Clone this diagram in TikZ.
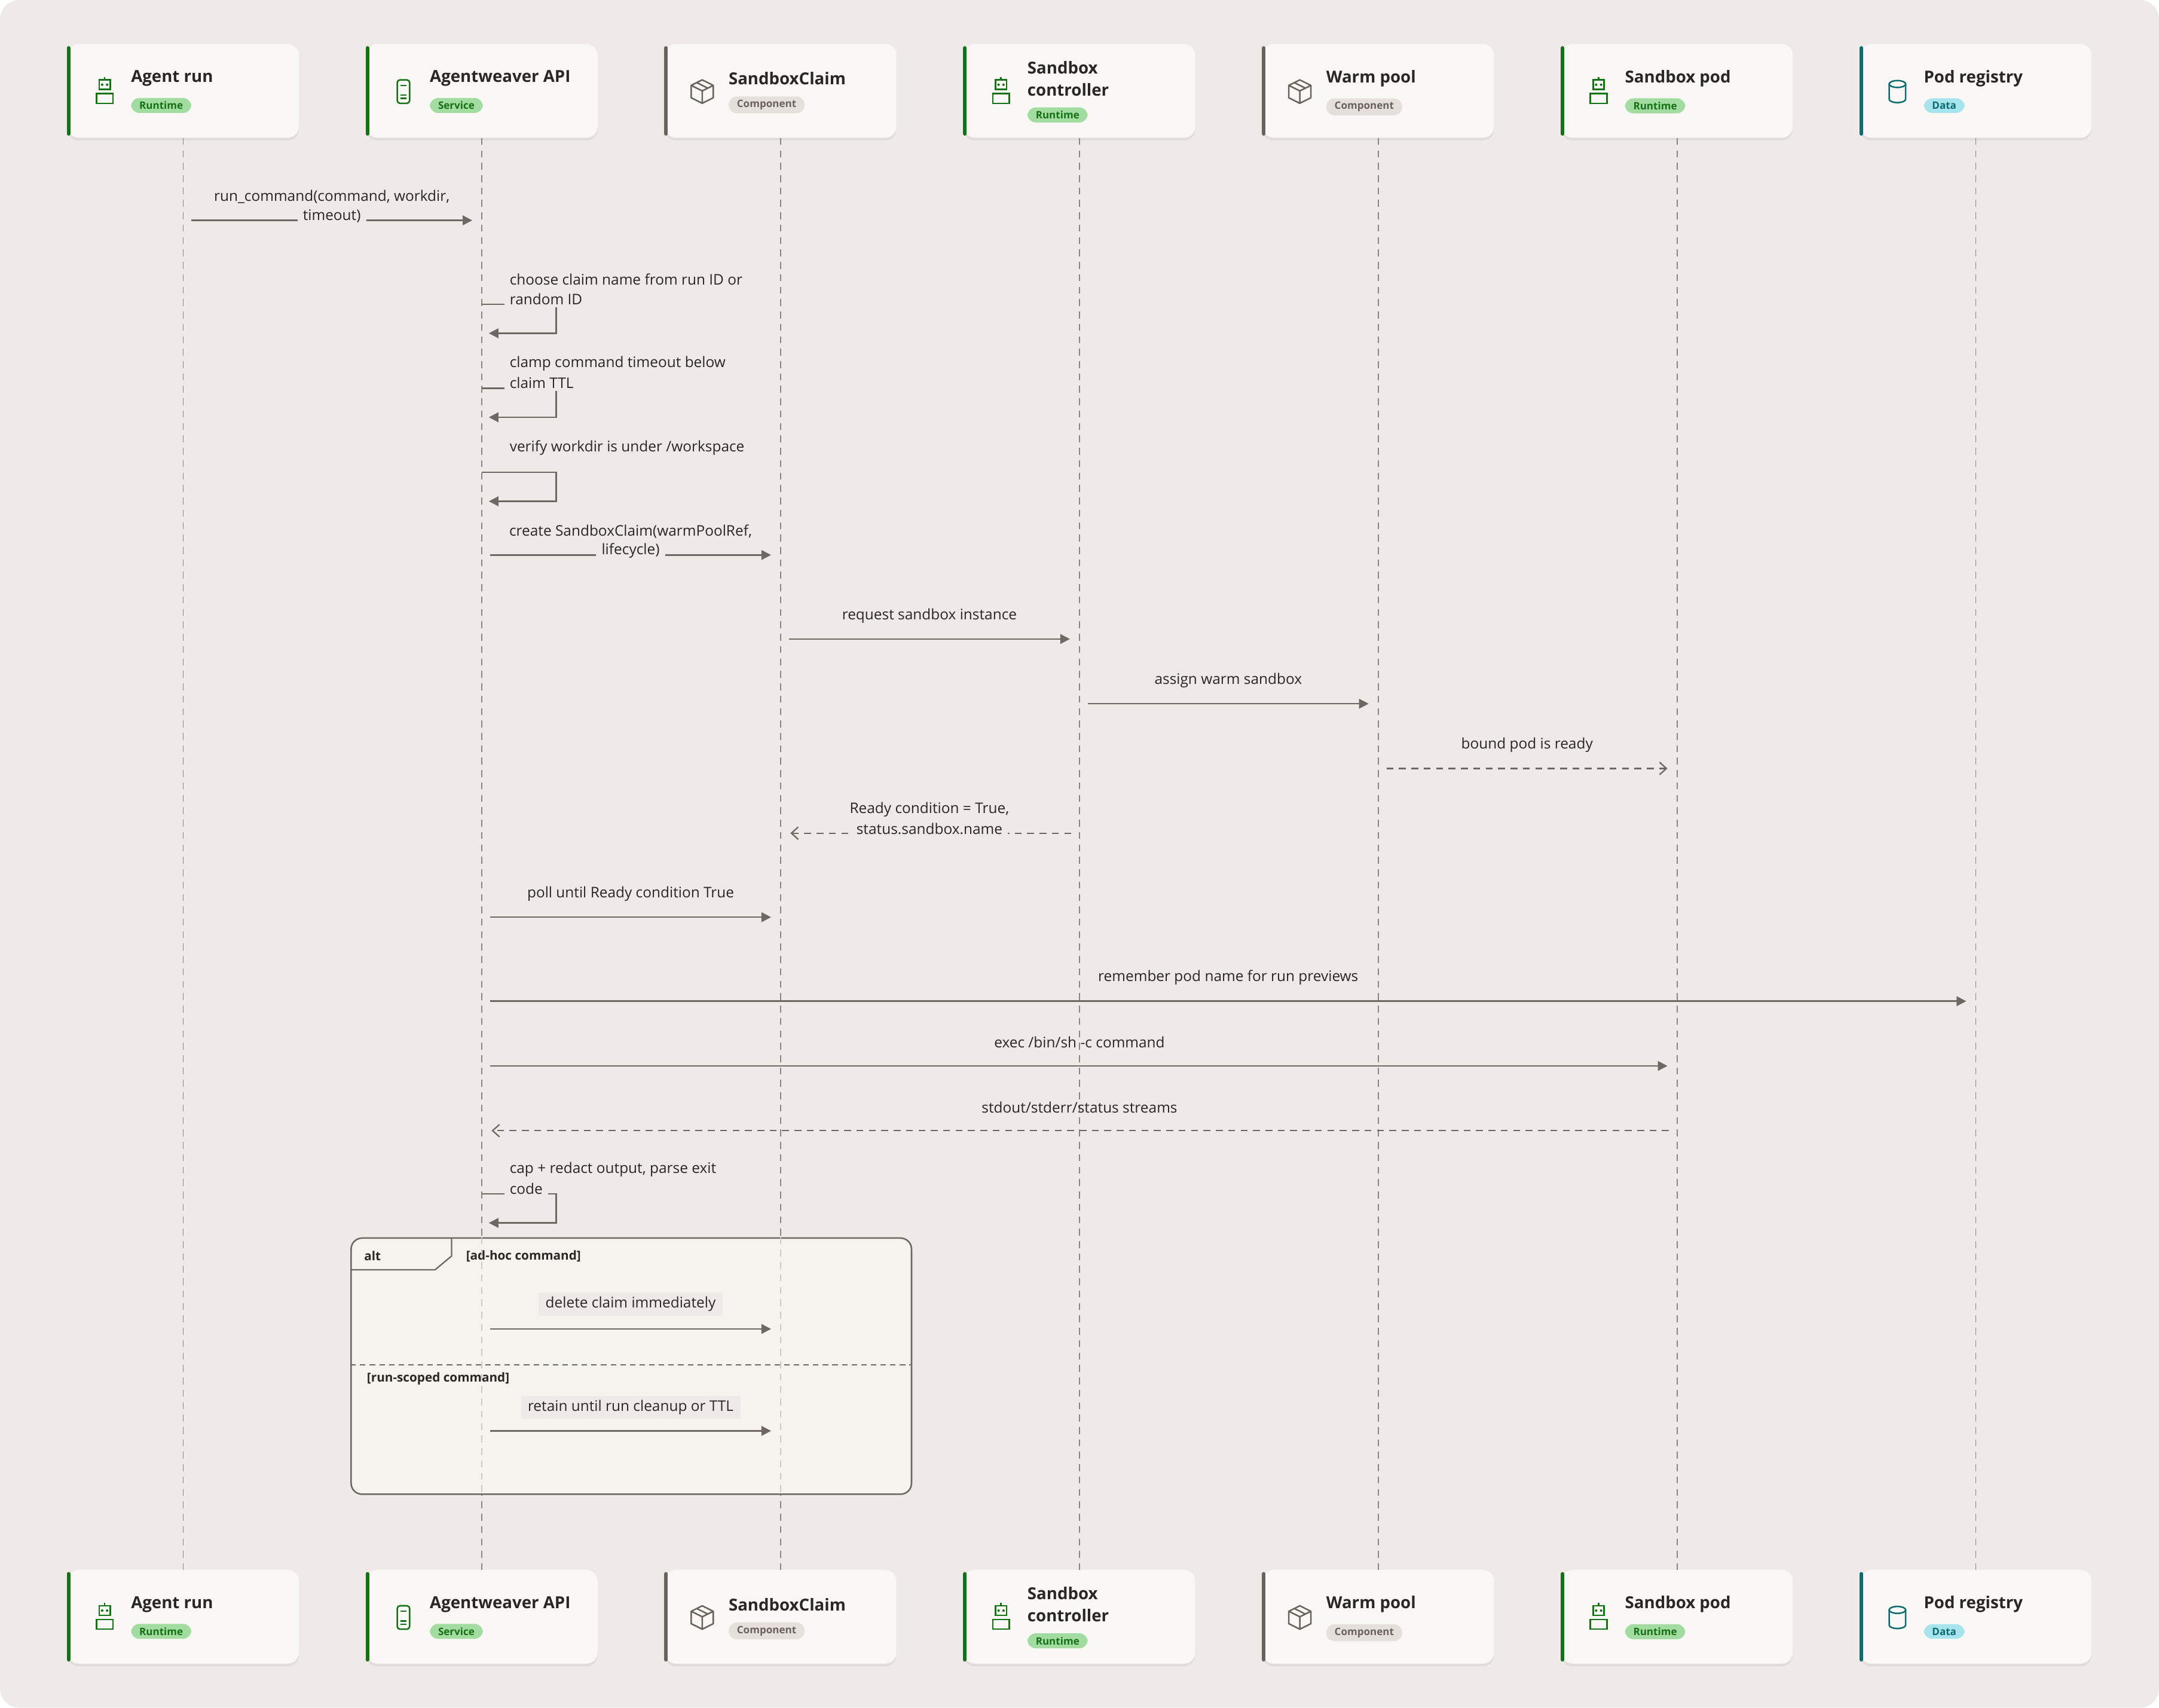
\documentclass[tikz,border=0pt]{standalone}
\usepackage{fontspec}
\setmainfont{Open Sans}
\usetikzlibrary{positioning,arrows.meta,shadows}
\definecolor{bgc}{HTML}{EFEAE7}
\definecolor{boxc}{HTML}{FAF8F5}
\definecolor{linec}{HTML}{6E6763}
\definecolor{txtc}{HTML}{2B2523}
\definecolor{rtc}{HTML}{167016}
\definecolor{rtfill}{HTML}{A3DCA0}
\definecolor{cpc}{HTML}{6B625E}
\definecolor{cpfill}{HTML}{E6E0DC}
\definecolor{dtc}{HTML}{0E6B6E}
\definecolor{dtfill}{HTML}{A6E4EE}
\definecolor{framec}{HTML}{F6F3EF}
\tikzset{
  party/.style={draw=none, fill=boxc, rounded corners=8, minimum width=168, minimum height=68,
    drop shadow={opacity=0.12, shadow xshift=0pt, shadow yshift=-2pt}},
  title/.style={font=\fontsize{12}{16}\selectfont\bfseries, text=txtc, align=left, inner sep=0pt, anchor=west},
  badge/.style={font=\fontsize{7.4}{8}\selectfont\bfseries, rounded corners=6, inner xsep=6pt, inner ysep=2.6pt},
  life/.style={draw=linec!80, dashed, dash pattern=on 5pt off 4pt, line width=0.7},
  msg/.style={draw=linec, line width=1.1, -{Triangle[length=7,width=7]}},
  ret/.style={draw=linec, line width=1.0, dash pattern=on 5pt off 4pt, -{Straight Barb[length=5,width=9]}},
  lbl/.style={font=\fontsize{10.6}{14}\selectfont, text=txtc, inner sep=2pt, align=center},
  cut/.style={lbl, fill=bgc, inner xsep=4pt},
  icon/.style={line width=1.1},
  pics/robot/.style={code={
    \draw[icon] (-4,-8) rectangle (4,-1); \fill (-1.8,-4.5) circle (0.9) (1.8,-4.5) circle (0.9);
    \draw[icon] (0,-8) -- (0,-10);
    \draw[icon] (-6,9) -- (-6,2) -- (6,2) -- (6,9) -- cycle;}},
  pics/phone/.style={code={
    \draw[icon, rounded corners=2] (-4.5,-8) rectangle (4.5,9);
    \draw[icon] (-2,-4) -- (2,-4) (-2,3) -- (2,3) (-2,5.5) -- (2,5.5);}},
  pics/cube/.style={code={
    \draw[icon, line join=round] (0,-8) -- (8,-4) -- (8,5) -- (0,9) -- (-8,5) -- (-8,-4) -- cycle
      (-8,-4) -- (0,0) -- (8,-4) (0,0) -- (0,9) (-4,-6) -- (4,-2);}},
  pics/cyl/.style={code={
    \draw[icon] (-6,-5) -- (-6,6) arc[start angle=180, end angle=0, x radius=6, y radius=2.5] -- (6,-5);
    \draw[icon] (0,-5) ellipse[x radius=6, y radius=2.5];}},
}
\begin{document}
\begin{tikzpicture}[x=1pt,y=-1pt]
\fill[bgc, rounded corners=14] (0,0) rectangle (1568,1240);
\useasboundingbox (0,0) rectangle (1568,1240);
% participants, top and bottom row
\foreach \k/\x/\t/\b/\c/\i in {
  ag/133/Agent run/Runtime/rt/robot,
  api/350/Agentweaver API/Service/rt/phone,
  claim/567/SandboxClaim/Component/cp/cube,
  ctl/784/{Sandbox\\controller}/Runtime/rt/robot,
  pool/1001/Warm pool/Component/cp/cube,
  pod/1218/Sandbox pod/Runtime/rt/robot,
  reg/1435/Pod registry/Data/dt/cyl}{
  \foreach \r/\y in {top/66, bot/1174}{
    \node[party] (\k-\r) at (\x,\y) {};
    \draw[\c c, line width=2.6, line cap=round] ([xshift=1pt,yshift=-3pt]\k-\r.north west) -- ([xshift=1pt,yshift=3pt]\k-\r.south west);
    \node[title] (\k-\r-t) at (\x-38,\y-9) {\t};
    \node[badge, fill=\c fill, text=\c c, below right=8pt and 0pt of \k-\r-t.south west, anchor=north west] (\k-\r-b) {\b};
    \pic[draw=\c c, fill=\c c] at (\x-57,\y) {\i};
  }
  \draw[life] (\k-top) -- (\k-bot);
}
% alt frame
\node[draw=linec, line width=1.1, fill=framec, rounded corners=8, minimum width=407, minimum height=186, inner sep=0pt] (frame) at (458.5,992) {};
\draw[linec, line width=1] (328,899) -- (328,912) -- (316,922) -- (255,922);
\node[font=\fontsize{9}{10}\selectfont\bfseries, text=txtc, anchor=west] (alt) at (261,912) {alt};
\node[font=\fontsize{9}{10}\selectfont\bfseries, text=txtc, anchor=west] (g1) at (335,912) {[ad-hoc command]};
\draw[linec, line width=0.9, dash pattern=on 4pt off 3pt] (frame.west |- 0,991) -- (frame.east |- 0,991);
\node[font=\fontsize{9}{10}\selectfont\bfseries, text=txtc, anchor=west] (g2) at (263,1001) {[run-scoped command]};
\foreach \k in {api, claim}
  \draw[life, draw=linec!35] (\k-top |- frame.north) -- (\k-top |- frame.south);
% messages
\draw[msg] ([xshift=6]ag-top |- 0,160) -- ([xshift=-7]api-top |- 0,160);
\node[lbl] (m1) at (241,143) {run\_command(command, workdir,};
\node[cut] (m1b) at (241,157) {timeout)};
\draw[msg] (api-top |- 0,221) -- ++(54,0) -- ++(0,21) -- ++(-49,0);
\node[lbl, anchor=west] (n2) at (368,203) {choose claim name from run ID or};
\node[cut, anchor=west] (n2b) at (366,217) {random ID};
\draw[msg] (api-top |- 0,282) -- ++(54,0) -- ++(0,21) -- ++(-49,0);
\node[lbl, anchor=west] (n3) at (368,264) {clamp command timeout below};
\node[cut, anchor=west] (n3b) at (366,278) {claim TTL};
\draw[msg] (api-top |- 0,343) -- ++(54,0) -- ++(0,21) -- ++(-49,0);
\node[lbl, anchor=west] (n4) at (368,325) {verify workdir is under /workspace};
\draw[msg] ([xshift=6]api-top |- 0,403) -- ([xshift=-7]claim-top |- 0,403);
\node[lbl] (m5) at (458,386) {create SandboxClaim(warmPoolRef,};
\node[cut] (m5b) at (458,400) {lifecycle)};
\draw[msg] ([xshift=6]claim-top |- 0,464) -- ([xshift=-7]ctl-top |- 0,464);
\node[lbl] (m6) at (675,447) {request sandbox instance};
\draw[msg] ([xshift=6]ctl-top |- 0,511) -- ([xshift=-7]pool-top |- 0,511);
\node[lbl] (m7) at (892,494) {assign warm sandbox};
\draw[ret] ([xshift=6]pool-top |- 0,558) -- ([xshift=-7]pod-top |- 0,558);
\node[lbl] (m8) at (1109,541) {bound pod is ready};
\draw[ret] ([xshift=-6]ctl-top |- 0,605) -- ([xshift=7]claim-top |- 0,605);
\node[lbl] (m9) at (675,588) {Ready condition = True,};
\node[cut] (m9b) at (675,602) {status.sandbox.name};
\draw[msg] ([xshift=6]api-top |- 0,666) -- ([xshift=-7]claim-top |- 0,666);
\node[lbl] (m10) at (458,649) {poll until Ready condition True};
\draw[msg] ([xshift=6]api-top |- 0,727) -- ([xshift=-7]reg-top |- 0,727);
\node[lbl] (m11) at (892,710) {remember pod name for run previews};
\draw[msg] ([xshift=6]api-top |- 0,774) -- ([xshift=-7]pod-top |- 0,774);
\node[lbl] (m12) at (784,757) {exec /bin/sh -c command};
\draw[ret] ([xshift=-6]pod-top |- 0,821) -- ([xshift=7]api-top |- 0,821);
\node[lbl] (m13) at (784,804) {stdout/stderr/status streams};
\draw[msg] (api-top |- 0,867) -- ++(54,0) -- ++(0,21) -- ++(-49,0);
\node[lbl, anchor=west] (n14) at (368,849) {cap + redact output, parse exit};
\node[cut, anchor=west] (n14b) at (366,863) {code};
% inside the alt frame
\draw[msg] ([xshift=6]api-top |- 0,965) -- ([xshift=-7]claim-top |- 0,965);
\node[cut, inner xsep=5pt, inner ysep=3pt] (m15) at (458,947) {delete claim immediately};
\draw[msg] ([xshift=6]api-top |- 0,1039) -- ([xshift=-7]claim-top |- 0,1039);
\node[cut, inner xsep=5pt, inner ysep=3pt] (m16) at (458,1022) {retain until run cleanup or TTL};
\end{tikzpicture}
\end{document}
